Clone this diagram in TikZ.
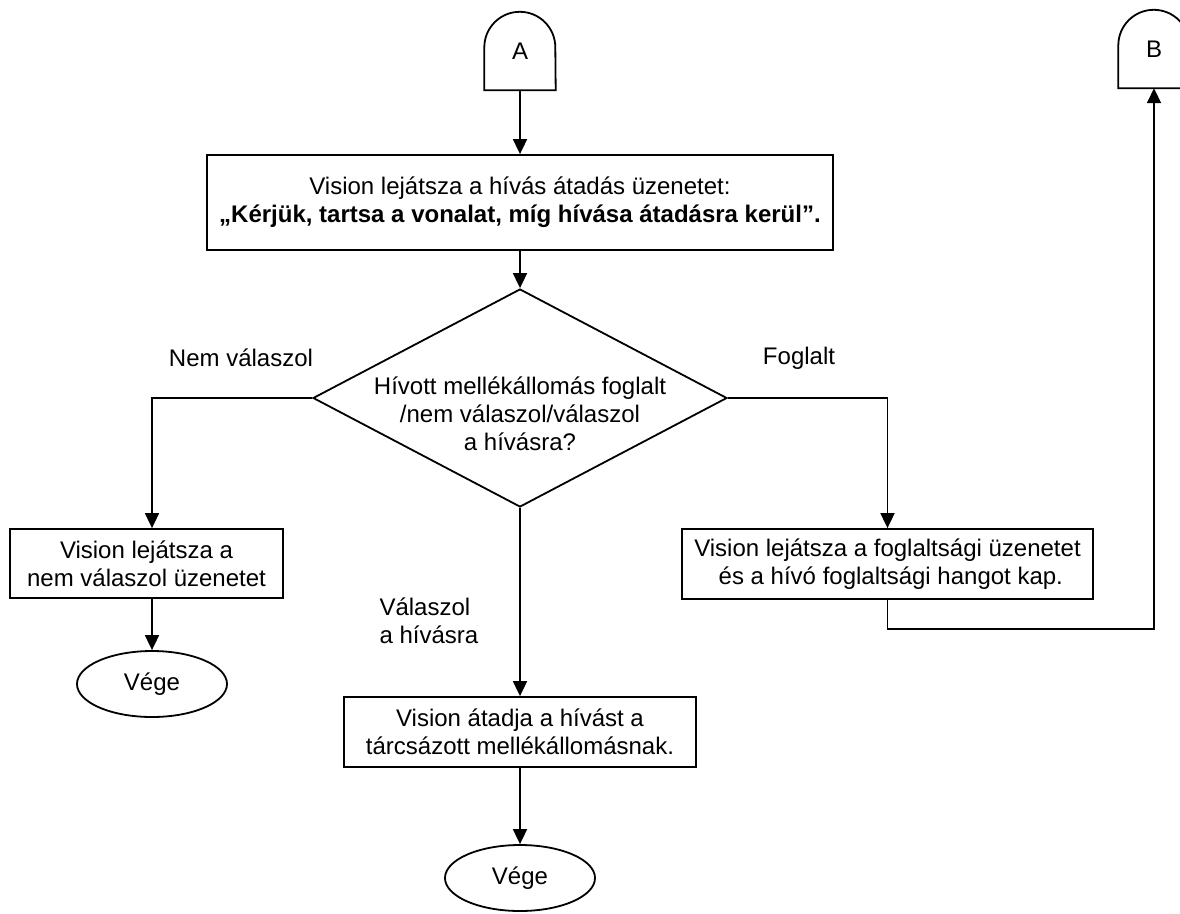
\documentclass[tikz,border=0pt]{standalone}
\usepackage{fontspec}
\setmainfont{Liberation Sans}
\usetikzlibrary{shapes.geometric,arrows.meta}

\begin{document}
\begin{tikzpicture}[x=1pt,y=-1pt,
    every node/.style={font=\fontsize{24}{28}\selectfont},
    line/.style={line width=1.8pt},
    box/.style={draw,line,rectangle,inner sep=0pt,align=center},
    ende/.style={draw,line,ellipse,minimum width=150pt,minimum height=66pt,inner sep=0pt},
    conn/.style={minimum width=71pt,minimum height=78pt,inner sep=0pt},
    arr/.style={line,-{Triangle[length=15pt,width=14pt]}}]
    \useasboundingbox (0,0) rectangle (1180,913);

    % off-page connectors
    \node[conn] (A) at (520,51) {A};
    \draw[line] (A.south west) -- ([yshift=-35.5pt]A.north west) arc[start angle=180,end angle=0,radius=35.5pt] -- (A.south east) -- cycle;
    \node[conn] (B) at (1154,49) {B};
    \draw[line] (B.south west) -- ([yshift=-35.5pt]B.north west) arc[start angle=180,end angle=0,radius=35.5pt] -- (B.south east) -- cycle;

    % steps
    \node[box,minimum width=626pt,minimum height=95pt] (msg) at (520,202.5) {Vision lejátsza a hívás átadás üzenetet:\\\textbf{„Kérjük, tartsa a vonalat, míg hívása átadásra kerül”.}};
    \node[draw,line,diamond,minimum width=414pt,minimum height=218pt,inner sep=0pt] (dia) at (520,398) {};
    \node[align=center] (ask) at (520,414) {Hívott mellékállomás foglalt\\/nem válaszol/válaszol\\a hívásra?};
    \node[box,minimum width=273pt,minimum height=69pt] (nv) at (146.5,563.5) {Vision lejátsza a\\nem válaszol üzenetet};
    \node[box,minimum width=411pt,minimum height=70pt] (fb) at (887.5,564) {Vision lejátsza a foglaltsági üzenetet\\\ és a hívó foglaltsági hangot kap.};
    \node[box,minimum width=352pt,minimum height=70pt] (ans) at (520,732) {Vision átadja a hívást a\\tárcsázott mellékállomásnak.};
    \node[ende] (end1) at (152,684) {Vége};
    \node[ende] (end2) at (520,878) {Vége};

    % branch labels
    \node (lnv) at (241,358) {Nem válaszol};
    \node (lfo) at (799,358) {Foglalt};
    \node[align=left,anchor=west] (lva) at (376,621) {Válaszol\\a hívásra};

    % connectors
    \draw[arr] (A.south) -- (msg.north);
    \draw[arr] (msg.south) -- (dia.north);
    \draw[arr] (dia.west) -| ([xshift=5.5pt]nv.north);
    \draw[arr] (dia.east) -| (fb.north);
    \draw[arr] (dia.south) -- (ans.north);
    \draw[arr] ([xshift=5.5pt]nv.south) -- (end1.north);
    \draw[arr] (ans.south) -- (end2.north);
    \draw[arr] (fb.south) -- ++(0,29) -| (B.south);
\end{tikzpicture}
\end{document}
